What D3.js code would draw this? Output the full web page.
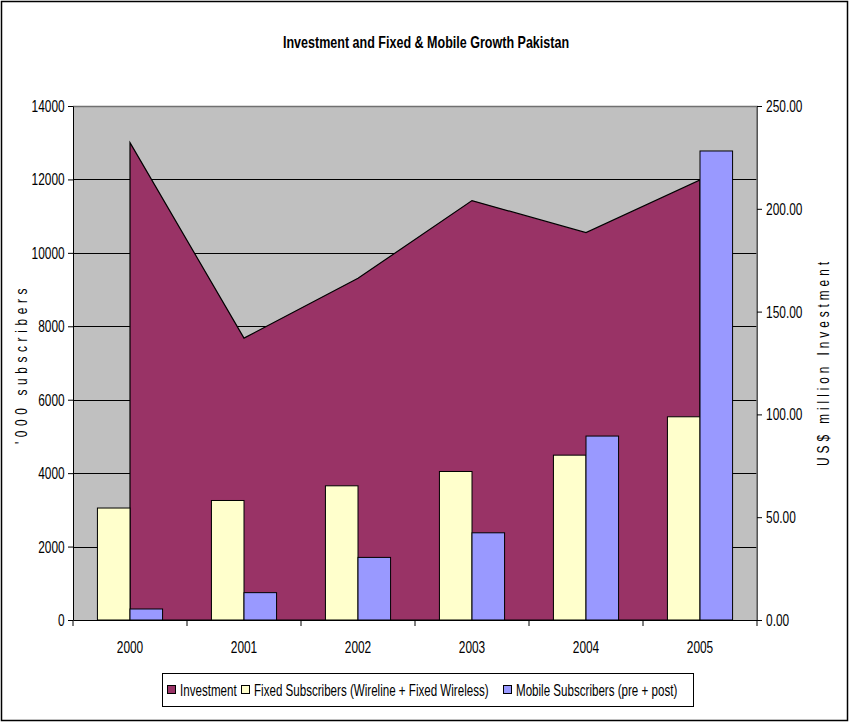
<!DOCTYPE html>
<html>
<head>
<meta charset="utf-8">
<script src="https://cdn.jsdelivr.net/npm/d3@7"></script>
<style>
  body { margin: 0; background: #fff; }
  text { font-family: "Liberation Sans", Arial, sans-serif; fill: #000; }
</style>
</head>
<body>
<div id="chart"></div>
<script>
  var years = ["2000", "2001", "2002", "2003", "2004", "2005"];
  var investment = [232.2, 137.1, 166.2, 204.0, 188.4, 214.0];
  var fixedSubs = [3050, 3255, 3655, 4045, 4490, 5535];
  var mobileSubs = [300, 745, 1705, 2375, 5010, 12775];
  var leftTicks = [0, 2000, 4000, 6000, 8000, 10000, 12000, 14000];
  var rightTicks = [0, 50, 100, 150, 200, 250];
  var seriesNames = ["Investment", "Fixed Subscribers (Wireline + Fixed Wireless)", "Mobile Subscribers (pre + post)"];
  var colors = ["#993366", "#ffffcc", "#9999ff"];

  var width = 850, height = 724;
  var margin = {top: 106, right: 93, bottom: 104, left: 73};
  var plotW = width - margin.left - margin.right,
    plotH = height - margin.top - margin.bottom;
  // the reference uses a narrow face, so text is squeezed sideways
  var squeeze = "scale(0.70,1)";

  var svg = d3.select("#chart")
    .append("svg")
    .attr("width", width)
    .attr("height", height);

  // outer border
  svg.append("rect")
    .attr("x", 1.5).attr("y", 1.5)
    .attr("width", width - 4).attr("height", height - 5)
    .attr("fill", "#fff")
    .attr("stroke", "#000")
    .attr("stroke-width", 1.5);

  svg.append("text")
    .attr("transform", "translate(426,48) scale(0.76,1)")
    .attr("text-anchor", "middle")
    .style("font-size", "16.5px")
    .style("font-weight", "bold")
    .text("Investment and Fixed & Mobile Growth Pakistan");

  var g = svg.append("g")
    .attr("transform", "translate(" + margin.left + "," + margin.top + ")");

  var x = d3.scaleBand()
    .domain(years)
    .range([0, plotW]);

  var y = d3.scaleLinear()
    .domain([0, 14000])
    .range([plotH, 0]);

  var yR = d3.scaleLinear()
    .domain([0, 250])
    .range([plotH, 0]);

  g.append("rect")
    .attr("width", plotW)
    .attr("height", plotH)
    .attr("fill", "#c0c0c0");

  // gridlines
  g.selectAll(".grid")
    .data(leftTicks.slice(1, -1))
    .enter().append("line")
    .attr("class", "grid")
    .attr("x1", 0).attr("x2", plotW)
    .attr("y1", function (d) { return Math.round(y(d)) + 0.5; })
    .attr("y2", function (d) { return Math.round(y(d)) + 0.5; })
    .attr("stroke", "#000")
    .attr("stroke-width", 1);

  // investment area
  var area = d3.area()
    .x(function (d, i) { return x(years[i]) + x.bandwidth() / 2; })
    .y0(plotH)
    .y1(function (d) { return yR(d); });

  g.append("path")
    .datum(investment)
    .attr("d", area)
    .attr("fill", colors[0])
    .attr("stroke", "#000")
    .attr("stroke-width", 1.2);

  var bw = x.bandwidth() / 3.5;

  g.selectAll(".fixed")
    .data(fixedSubs)
    .enter().append("rect")
    .attr("class", "fixed")
    .attr("x", function (d, i) { return x(years[i]) + x.bandwidth() / 2 - bw; })
    .attr("y", function (d) { return y(d); })
    .attr("width", bw)
    .attr("height", function (d) { return plotH - y(d); })
    .attr("fill", colors[1])
    .attr("stroke", "#000")
    .attr("stroke-width", 1);

  g.selectAll(".mobile")
    .data(mobileSubs)
    .enter().append("rect")
    .attr("class", "mobile")
    .attr("x", function (d, i) { return x(years[i]) + x.bandwidth() / 2; })
    .attr("y", function (d) { return y(d); })
    .attr("width", bw)
    .attr("height", function (d) { return plotH - y(d); })
    .attr("fill", colors[2])
    .attr("stroke", "#000")
    .attr("stroke-width", 1);

  // plot border top / right
  g.append("path")
    .attr("d", "M0,0.5H" + plotW + "V" + plotH)
    .attr("fill", "none")
    .attr("stroke", "#707070")
    .attr("stroke-width", 1.5);

  var yAxis = d3.axisLeft(y)
    .tickValues(leftTicks)
    .tickSize(5)
    .tickSizeOuter(0)
    .tickPadding(7)
    .tickFormat(function (d) { return d; });

  g.append("g")
    .attr("class", "y axis")
    .call(yAxis)
    .selectAll("text")
    .attr("transform", squeeze)
    .style("font-size", "17px");

  var yAxisR = d3.axisRight(yR)
    .tickValues(rightTicks)
    .tickSize(5)
    .tickSizeOuter(0)
    .tickPadding(8)
    .tickFormat(d3.format(".2f"));

  g.append("g")
    .attr("class", "y2 axis")
    .attr("transform", "translate(" + plotW + ",0)")
    .call(yAxisR)
    .selectAll("text")
    .attr("transform", squeeze)
    .style("font-size", "17px");

  var xAxis = d3.axisBottom(x)
    .tickSize(0)
    .tickPadding(21);

  var xg = g.append("g")
    .attr("class", "x axis")
    .attr("transform", "translate(0," + plotH + ")")
    .call(xAxis);
  xg.selectAll("text")
    .attr("transform", squeeze)
    .style("font-size", "17px");

  // tick marks between categories
  xg.selectAll(".sep")
    .data(d3.range(years.length + 1))
    .enter().append("line")
    .attr("class", "sep")
    .attr("x1", function (d) { return d * x.step(); })
    .attr("x2", function (d) { return d * x.step(); })
    .attr("y1", 0).attr("y2", 6)
    .attr("stroke", "#000");

  svg.selectAll(".axis path, .axis line").attr("stroke", "#000");
  svg.select(".y2.axis path").attr("stroke", "#555");

  svg.append("text")
    .attr("transform", "translate(27,364) rotate(-90) " + squeeze)
    .attr("text-anchor", "middle")
    .style("font-size", "17px")
    .style("letter-spacing", "6.6px")
    .text("'000 subscribers");

  svg.append("text")
    .attr("transform", "translate(829,362) rotate(-90) " + squeeze)
    .attr("text-anchor", "middle")
    .style("font-size", "17px")
    .style("letter-spacing", "5.6px")
    .text("US$ million Investment");

  // legend
  svg.append("rect")
    .attr("x", 162.5).attr("y", 673.5)
    .attr("width", 531).attr("height", 33)
    .attr("fill", "#fff")
    .attr("stroke", "#000");

  var legendX = [167, 241, 503];
  var legend = svg.selectAll(".legend")
    .data(seriesNames)
    .enter().append("g")
    .attr("class", "legend")
    .attr("transform", function (d, i) { return "translate(" + legendX[i] + ",690)"; });

  legend.append("rect")
    .attr("x", 0.5).attr("y", -4.5)
    .attr("width", 8).attr("height", 8)
    .attr("fill", function (d, i) { return colors[i]; })
    .attr("stroke", "#000");

  legend.append("text")
    .attr("transform", "translate(13,0) scale(0.69,1)")
    .attr("dy", "0.36em")
    .style("font-size", "16.8px")
    .text(function (d) { return d; });
</script>
</body>
</html>
